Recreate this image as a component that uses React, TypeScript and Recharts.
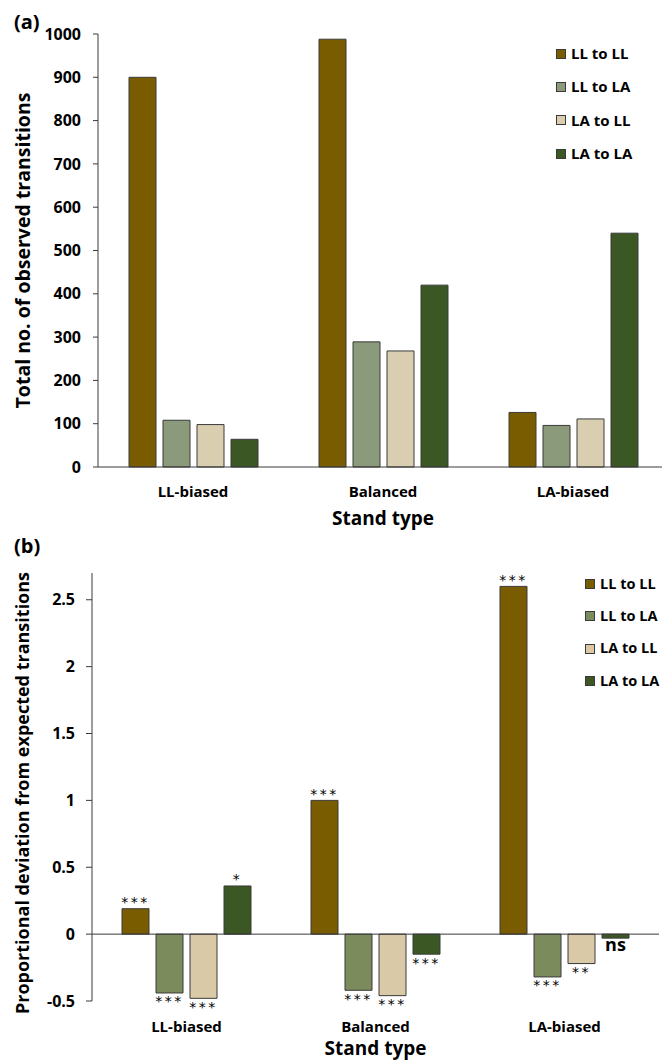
import React from 'react';
import { BarChart, Bar, XAxis, YAxis, Legend, LabelList, ReferenceLine } from 'recharts';

const FONT = '"Open Sans", Lato, sans-serif';

const standTypes = ['LL-biased', 'Balanced', 'LA-biased'];
const seriesNames = ['LL to LL', 'LL to LA', 'LA to LL', 'LA to LA'];

// (a) total observed transitions
const countLLtoLL = [900, 988, 126];
const countLLtoLA = [108, 289, 96];
const countLAtoLL = [98, 268, 111];
const countLAtoLA = [64, 420, 540];
const countTicks = [0, 100, 200, 300, 400, 500, 600, 700, 800, 900, 1000];

// (b) proportional deviation from expected
const devLLtoLL = [0.19, 1.0, 2.6];
const devLLtoLA = [-0.44, -0.42, -0.32];
const devLAtoLL = [-0.48, -0.46, -0.22];
const devLAtoLA = [0.36, -0.15, -0.03];
const sigLLtoLL = ['***', '***', '***'];
const sigLLtoLA = ['***', '***', '***'];
const sigLAtoLL = ['***', '***', '**'];
const sigLAtoLA = ['*', '***', 'ns'];
const devTicks = [-0.5, 0, 0.5, 1, 1.5, 2, 2.5];

const colorsA = ['#7a5c00', '#8a9a7b', '#d9cfb0', '#3b5724'];
const colorsB = ['#7a5c00', '#7b8b5c', '#d9c9a6', '#3b5724'];
const STROKE = '#3a3a3a';

const countData = standTypes.map((s, i) => ({
  stand: s,
  s0: countLLtoLL[i],
  s1: countLLtoLA[i],
  s2: countLAtoLL[i],
  s3: countLAtoLA[i],
}));

const devSeries = [devLLtoLL, devLLtoLA, devLAtoLL, devLAtoLA];
const sigSeries = [sigLLtoLL, sigLLtoLA, sigLAtoLL, sigLAtoLA];

const devData = standTypes.map((s, i) => ({
  stand: s,
  s0: devLLtoLL[i],
  s1: devLLtoLA[i],
  s2: devLAtoLL[i],
  s3: devLAtoLA[i],
  g0: sigLLtoLL[i],
  g1: sigLLtoLA[i],
  g2: sigLAtoLL[i],
  g3: sigLAtoLA[i],
}));

const catTick = (dy: number) => (props: any) => (
  <text x={props.x} y={props.y + dy} textAnchor="middle" fontFamily={FONT} fontWeight={700} fontSize={15} fill="#000">
    {props.payload.value}
  </text>
);

const xTitle = (offset: number) => (props: any) => {
  const { x, y, width } = props.viewBox;
  return (
    <text x={x + width / 2} y={y + offset} textAnchor="middle" fontFamily={FONT} fontWeight={700} fontSize={19} fill="#000">
      Stand type
    </text>
  );
};

const yTitle = (text: string, cx: number, size: number, shift: number) => (props: any) => {
  const { y, height } = props.viewBox;
  return (
    <text
      transform={`translate(${cx}, ${y + height / 2 + shift}) rotate(-90)`}
      textAnchor="middle"
      dominantBaseline="central"
      fontFamily={FONT}
      fontWeight={700}
      fontSize={size}
      fill="#000"
    >
      {text}
    </text>
  );
};

const legendContent = (colors: string[], rowH: number, fontSize: number) => () => (
  <div style={{ fontFamily: FONT, fontWeight: 700, fontSize, color: '#000', lineHeight: 1 }}>
    {seriesNames.map((n, i) => (
      <div key={n} style={{ display: 'flex', alignItems: 'center', height: rowH, whiteSpace: 'nowrap' }}>
        <span
          style={{
            display: 'inline-block',
            width: 10,
            height: 10,
            boxSizing: 'border-box',
            border: `1px solid ${STROKE}`,
            background: colors[i],
            marginRight: 5,
            flex: 'none',
          }}
        />
        {n}
      </div>
    ))}
  </div>
);

const sigLabel = (k: number) => (props: any) => {
  const { x, y, width, height, index } = props;
  const v = devSeries[k][index];
  const txt = sigSeries[k][index];
  const top = Math.min(y, y + height);
  const bottom = Math.max(y, y + height);
  const cx = x + width / 2;
  if (txt === 'ns') {
    return (
      <text x={cx} y={bottom + 13} textAnchor="middle" fontFamily={FONT} fontWeight={700} fontSize={18} fill="#000">
        ns
      </text>
    );
  }
  const center = v >= 0 ? top - 9 : bottom + 6;
  return (
    <text x={cx} y={center + 7.5} textAnchor="middle" fontFamily='"DejaVu Sans", sans-serif' fontSize={14} letterSpacing={2.5} fill="#000">
      {txt}
    </text>
  );
};

const tickStyle = { fontFamily: FONT, fontWeight: 700, fontSize: 16, fill: '#000' };

export default function App() {
  return (
    <div style={{ position: 'absolute', left: 0, top: 0, width: 662, height: 1061, overflow: 'hidden', background: '#fff' }}>
      <div style={{ position: 'absolute', left: 14, top: 10, fontFamily: FONT, fontWeight: 700, fontSize: 20, lineHeight: 1.2 }}>(a)</div>
      <div style={{ position: 'absolute', left: 14, top: 534, fontFamily: FONT, fontWeight: 700, fontSize: 20, lineHeight: 1.2 }}>(b)</div>

      <div style={{ position: 'absolute', left: 0, top: 0 }}>
        <BarChart width={668} height={530} data={countData} margin={{ top: 34, right: 0, bottom: 0, left: 0 }} barSize={27} barGap={7}>
          <XAxis
            dataKey="stand"
            height={63}
            tickLine={false}
            tickSize={0}
            tickMargin={0}
            axisLine={{ stroke: STROKE }}
            tick={catTick(30)}
            label={{ content: xTitle(58) }}
          />
          <YAxis
            width={98}
            domain={[0, 1000]}
            ticks={countTicks}
            interval={0}
            tickSize={5}
            tickMargin={12}
            tickLine={{ stroke: STROKE }}
            axisLine={{ stroke: STROKE }}
            tick={tickStyle}
            label={{ content: yTitle('Total no. of observed transitions', 22, 19.5, 0) }}
          />
          <Legend
            layout="horizontal"
            verticalAlign="middle"
            align="center"
            content={legendContent(colorsA, 33.3, 15)}
            wrapperStyle={{ left: 556, top: 37, width: 110, height: 140 }}
          />
          {seriesNames.map((n, k) => (
            <Bar key={n} dataKey={`s${k}`} name={n} fill={colorsA[k]} stroke={STROKE} strokeWidth={1} isAnimationActive={false} />
          ))}
        </BarChart>
      </div>

      <div style={{ position: 'absolute', left: 0, top: 540 }}>
        <BarChart width={662} height={521} data={devData} margin={{ top: 33, right: 3, bottom: 0, left: 0 }} barSize={27} barGap={7}>
          <XAxis
            dataKey="stand"
            height={60}
            tickLine={false}
            tickSize={0}
            tickMargin={0}
            axisLine={false}
            tick={catTick(31)}
            label={{ content: xTitle(54) }}
          />
          <YAxis
            width={92}
            domain={[-0.5, 2.7]}
            ticks={devTicks}
            interval={0}
            allowDataOverflow
            tickSize={6}
            tickMargin={11}
            tickLine={{ stroke: STROKE }}
            axisLine={{ stroke: STROKE }}
            tick={tickStyle}
            label={{ content: yTitle('Proportional deviation from expected transitions', 22, 18, 6) }}
          />
          <ReferenceLine y={0} stroke={STROKE} strokeWidth={1} />
          <Legend
            layout="horizontal"
            verticalAlign="middle"
            align="center"
            content={legendContent(colorsB, 32.3, 14.5)}
            wrapperStyle={{ left: 585, top: 28, width: 80, height: 140 }}
          />
          {seriesNames.map((n, k) => (
            <Bar key={n} dataKey={`s${k}`} name={n} fill={colorsB[k]} stroke={STROKE} strokeWidth={1} isAnimationActive={false}>
              <LabelList dataKey={`g${k}`} content={sigLabel(k)} />
            </Bar>
          ))}
        </BarChart>
      </div>
    </div>
  );
}
